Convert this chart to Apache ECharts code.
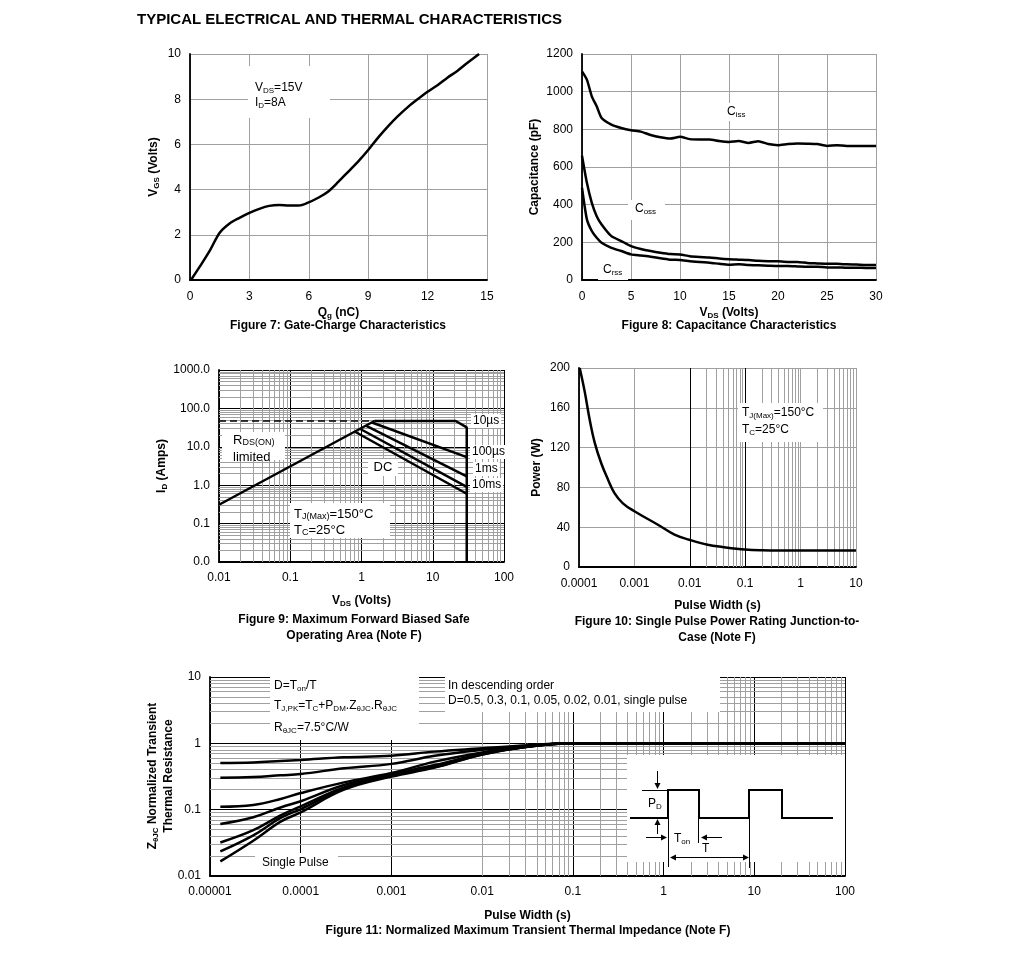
<!DOCTYPE html>
<html><head><meta charset="utf-8">
<script src="https://cdn.jsdelivr.net/npm/echarts@6/dist/echarts.min.js"></script>
<style>html,body{margin:0;padding:0;background:#fff}#c{width:1020px;height:965px}</style>
</head><body><div id="c"></div>
<script>
const FF = '"Liberation Sans", Arial, Helvetica, sans-serif';

// ---------- Figure 7: gate charge ----------
const qg7  = [0.05,0.5,1,1.5,2,2.5,3,3.5,4,4.5,5,5.5,5.9,6.5,7,7.5,8,8.5,9,9.5,10,10.5,11,11.5,12,12.5,13,13.5,14,14.6];
const vgs7 = [0,0.6,1.3,2.09,2.5,2.75,2.97,3.15,3.28,3.32,3.3,3.3,3.4,3.65,3.93,4.35,4.8,5.25,5.75,6.3,6.8,7.25,7.65,8.0,8.33,8.62,8.95,9.25,9.6,10];

// ---------- Figure 8: capacitance ----------
const vds8 = [0,0.5,1,1.5,2,3,4,5,6,7,8,9,10,11,12,13,14,15,16,17,18,19,20,21,22,23,24,25,26,27,28,29,30];
const ciss = [1108,1064,975,922,860,825,807,795,788,770,758,751,760,748,746,746,738,733,738,728,737,722,716,722,725,724,722,712,716,712,712,712,712];
const coss = [660,516,410,339,295,233,207,180,165,154,145,138,136,126,122,120,114,110,108,106,102,100,99,96,96,90,88,86,86,83,82,80,80];
const crss = [490,322,260,224,198,171,154,136,130,124,115,108,106,100,95,92,86,81,84,80,78,76,74,74,72,70,70,67,67,65,65,64,64];

// ---------- Figure 9: SOA ----------
const rdsV = [0.01, 1.52],  rdsI = [0.31, 47];
const limV = [0.01, 1.52],  limI = [47, 47];
const us10V = [1.52, 21, 30, 30], us10I = [47, 47, 32, 0.01];
const us100V = [1.4, 30], us100I = [43, 5.4];
const ms1V = [1.15, 30],  ms1I = [35.5, 1.7];
const ms10V = [0.95, 30], ms10I = [29.5, 0.9];
const dcV = [0.8, 30],    dcI = [25, 0.6];

// ---------- Figure 10: single pulse power ----------
const t10 = [1.03e-4,1.27e-4,1.56e-4,1.92e-4,2.53e-4,3.33e-4,4.4e-4,6.2e-4,1e-3,2.66e-3,5.3e-3,9.8e-3,2.1e-2,3.9e-2,1e-1,2e-1,1,10];
const p10 = [200,176,148,125,104,88,74,64,56,42.5,32.5,27.4,22.4,20.1,17.5,16.8,16.5,16.5];

// ---------- Figure 11: transient thermal impedance ----------
const t11  = [1.3e-5,3e-5,6e-5,1e-4,3e-4,1e-3,3e-3,1e-2,3e-2,1e-1,1,10,100];
const z05  = [0.505,0.515,0.54,0.56,0.615,0.65,0.75,0.84,0.93,1,1,1,1];
const z03  = [0.303,0.31,0.33,0.345,0.42,0.49,0.65,0.80,0.92,1,1,1,1];
const z01  = [0.111,0.118,0.145,0.178,0.258,0.357,0.53,0.73,0.90,1,1,1,1];
const z005 = [0.061,0.077,0.108,0.134,0.235,0.345,0.47,0.70,0.89,1,1,1,1];
const z002 = [0.032,0.049,0.082,0.112,0.217,0.333,0.45,0.69,0.88,1,1,1,1];
const z001 = [0.0235,0.041,0.075,0.102,0.21,0.326,0.44,0.68,0.88,1,1,1,1];
const zsp  = [0.0166,0.034,0.066,0.091,0.20,0.315,0.43,0.68,0.88,1,1,1,1];

// ---------- tick labels ----------
const f9xTicks = [0.01,0.1,1,10,100],        f9xLabels = ['0.01','0.1','1','10','100'];
const f9yTicks = [0.01,0.1,1,10,100,1000],   f9yLabels = ['0.0','0.1','1.0','10.0','100.0','1000.0'];
const f10xTicks = [0.0001,0.001,0.01,0.1,1,10], f10xLabels = ['0.0001','0.001','0.01','0.1','1','10'];
const f11xTicks = [1e-5,1e-4,1e-3,1e-2,1e-1,1,10,100], f11xLabels = ['0.00001','0.0001','0.001','0.01','0.1','1','10','100'];
const f11yTicks = [0.01,0.1,1,10], f11yLabels = ['0.01','0.1','1','10'];

// ---------- helpers ----------
const pairs = (xs, ys) => xs.map((x, i) => [x, ys[i]]);
function logFmt(ticks, labels) {
  return v => {
    let best = '', bd = 1e9;
    ticks.forEach((t, i) => { const d = Math.abs(Math.log10(v) - Math.log10(t)); if (d < bd) { bd = d; best = labels[i]; } });
    return bd < 0.01 ? best : '';
  };
}
function minorVals(k0, k1) {
  const out = [];
  for (let k = k0; k <= k1; k++) for (let m = 2; m <= 9; m++) out.push(+(m * Math.pow(10, k)).toPrecision(6));
  return out;
}
const nameStyle = {
  fontFamily: FF, fontSize: 12, fontWeight: 'bold', color: '#000', lineHeight: 16,
  rich: { s: { fontFamily: FF, fontSize: 8, fontWeight: 'bold', color: '#000', padding: [6, 0, 0, 0] } }
};
function axis(gi, type, min, max, o) {
  const a = {
    gridIndex: gi, type, min, max,
    axisLine: { show: true, onZero: false, lineStyle: { color: '#000', width: 1.8 } },
    axisTick: { show: false },
    axisLabel: { color: '#000', fontSize: 12, fontFamily: FF, margin: 9 },
    splitLine: { show: true, lineStyle: { color: '#a0a0a0', width: 1 } },
    nameLocation: 'middle', nameTextStyle: nameStyle
  };
  if (type === 'log') a.logBase = 10;
  for (const k in o) {
    if (k === 'axisLabel' || k === 'splitLine') a[k] = Object.assign({}, a[k], o[k]);
    else a[k] = o[k];
  }
  return a;
}
function curve(gi, xs, ys, o) {
  return Object.assign({
    type: 'line', xAxisIndex: gi, yAxisIndex: gi, data: pairs(xs, ys),
    showSymbol: false, symbol: 'none', silent: true, z: 3, clip: true,
    lineStyle: { color: '#000', width: 2.5 }
  }, o || {});
}
function gridLines(gi, xs, ys, color, width) {
  return {
    type: 'line', xAxisIndex: gi, yAxisIndex: gi, data: [], silent: true, z: 1,
    markLine: {
      z: 1, zlevel: 0,
      silent: true, symbol: ['none', 'none'], animation: false, label: { show: false },
      emphasis: { disabled: true },
      lineStyle: { type: 'solid', color, width },
      data: xs.map(v => ({ xAxis: v })).concat(ys.map(v => ({ yAxis: v })))
    }
  };
}
function gtext(x, y, text, size, sub, o) {
  o = o || {};
  const st = {
    text, fill: '#000', font: (o.bold ? 'bold ' : '') + size + 'px ' + FF,
    align: o.align || 'left', verticalAlign: 'middle',
    textAlign: o.align || 'left', textVerticalAlign: 'middle',
    rich: { s: { fontSize: sub, fontFamily: FF, fontWeight: o.bold ? 'bold' : 'normal', fill: '#000', padding: [Math.round(sub * 0.7), 0, 0, 0] } }
  };
  if (o.bg) { st.backgroundColor = o.bg; st.padding = o.pad || [1, 2]; }
  const el = { type: 'text', x, y, z: o.z || 6, silent: true, style: st };
  if (o.rot) el.rotation = o.rot;
  return el;
}
function grect(x, y, w, h) {
  return { type: 'rect', z: 2, silent: true, shape: { x, y, width: w, height: h }, style: { fill: '#fff' } };
}
function gline(pts, w) {
  return { type: 'polyline', z: 6, silent: true, shape: { points: pts }, style: { stroke: '#000', lineWidth: w, fill: null } };
}
function gtri(pts) {
  return { type: 'polygon', z: 6, silent: true, shape: { points: pts }, style: { fill: '#000' } };
}

const option = {
  animation: false,
  backgroundColor: '#fff',
  textStyle: { fontFamily: FF },
  title: { text: 'TYPICAL ELECTRICAL AND THERMAL CHARACTERISTICS', left: 137, top: 12, padding: 0,
    textStyle: { fontFamily: FF, fontSize: 15, fontWeight: 'bold', color: '#000' } },
  grid: [
    { left: 190, top: 54, width: 297, height: 226, outerBoundsMode: 'none' },
    { left: 582, top: 54, width: 294, height: 226, outerBoundsMode: 'none' },
    { left: 219, top: 370, width: 285, height: 192, outerBoundsMode: 'none' },
    { left: 579, top: 368, width: 277, height: 199, outerBoundsMode: 'none' },
    { left: 210, top: 677, width: 635, height: 199, outerBoundsMode: 'none' }
  ],
  xAxis: [
    axis(0, 'value', 0, 15, { interval: 3, name: 'Q{s|g} (nC)', nameGap: 25, axisLabel: { margin: 11 } }),
    axis(1, 'value', 0, 30, { interval: 5, name: 'V{s|DS} (Volts)', nameGap: 25, axisLabel: { margin: 11 } }),
    axis(2, 'log', 0.01, 100, { name: 'V{s|DS} (Volts)', nameGap: 31, axisLabel: { margin: 10, formatter: logFmt(f9xTicks, f9xLabels) },
      splitLine: { lineStyle: { color: '#000', width: 1 } } }),
    axis(3, 'log', 0.0001, 10, { name: 'Pulse Width (s)', nameGap: 31, axisLabel: { margin: 11, formatter: logFmt(f10xTicks, f10xLabels) } }),
    axis(4, 'log', 0.00001, 100, { name: 'Pulse Width (s)', nameGap: 32, axisLabel: { margin: 10, formatter: logFmt(f11xTicks, f11xLabels) },
      splitLine: { lineStyle: { color: '#000', width: 1 } } })
  ],
  yAxis: [
    axis(0, 'value', 0, 10, { interval: 2, name: 'V{s|GS} (Volts)', nameGap: 28 }),
    axis(1, 'value', 0, 1200, { interval: 200, name: 'Capacitance (pF)', nameGap: 39, axisLabel: { formatter: v => String(v) } }),
    axis(2, 'log', 0.01, 1000, { name: 'I{s|D} (Amps)', nameGap: 46, axisLabel: { formatter: logFmt(f9yTicks, f9yLabels) },
      splitLine: { lineStyle: { color: '#000', width: 1 } } }),
    axis(3, 'value', 0, 200, { interval: 40, name: 'Power (W)', nameGap: 34 }),
    axis(4, 'log', 0.01, 10, { axisLabel: { formatter: logFmt(f11yTicks, f11yLabels) },
      splitLine: { lineStyle: { color: '#000', width: 1 } } })
  ],
  series: [
    // Figure 7
    curve(0, qg7, vgs7, { smooth: 0.3 }),
    // Figure 8
    curve(1, vds8, ciss, { smooth: 0.2 }),
    curve(1, vds8, coss, { smooth: 0.2 }),
    curve(1, vds8, crss, { smooth: 0.2 }),
    // Figure 9
    gridLines(2, minorVals(-2, 1), minorVals(-2, 2), '#a0a0a0', 1),
    curve(2, limV, limI, { lineStyle: { color: '#000', width: 1.5, type: [7, 4] } }),
    curve(2, rdsV, rdsI),
    curve(2, us10V, us10I),
    curve(2, us100V, us100I),
    curve(2, ms1V, ms1I),
    curve(2, ms10V, ms10I),
    curve(2, dcV, dcI),
    // Figure 10
    gridLines(3, minorVals(-4, 0), [], '#a0a0a0', 1),
    gridLines(3, [0.01, 0.1], [], '#000', 1),
    curve(3, t10, p10, { smooth: 0.4 }),
    // Figure 11
    gridLines(4, minorVals(-5, 1), minorVals(-2, 0), '#a0a0a0', 1),
    curve(4, t11, z05,  { smooth: 0.4 }),
    curve(4, t11, z03,  { smooth: 0.4 }),
    curve(4, t11, z01,  { smooth: 0.4 }),
    curve(4, t11, z005, { smooth: 0.4 }),
    curve(4, t11, z002, { smooth: 0.4 }),
    curve(4, t11, z001, { smooth: 0.4 }),
    curve(4, t11, zsp,  { smooth: 0.4 })
  ],
  graphic: { elements: [
    // Figure 7 annotation
    grect(248, 66, 82, 52),
    gtext(255, 88, 'V{s|DS}=15V', 12, 8),
    gtext(255, 103, 'I{s|D}=8A', 12, 8),
    // Figure 8 labels
    grect(722, 103, 28, 18), gtext(727, 112, 'C{s|iss}', 12, 8),
    grect(628, 200, 37, 20), gtext(635, 209, 'C{s|oss}', 12, 8),
    grect(598, 260, 30, 20), gtext(603, 270, 'C{s|rss}', 12, 8),
    // Figure 9 labels
    grect(222, 432, 63, 28),
    gtext(233, 440, 'R{s|DS(ON)}', 13, 9),
    gtext(233, 457, 'limited', 13, 9),
    grect(368, 459, 30, 17), gtext(383, 467, 'DC', 13, 9, { align: 'center' }),
    grect(290, 503, 100, 35),
    gtext(294, 514, 'T{s|J(Max)}=150°C', 13, 9),
    gtext(294, 530, 'T{s|C}=25°C', 13, 9),
    gtext(471, 421, '10µs', 12, 8, { bg: '#fff', z: 2 }),
    gtext(470, 452, '100µs', 12, 8, { bg: '#fff', z: 2 }),
    gtext(473, 469, '1ms', 12, 8, { bg: '#fff', z: 2 }),
    gtext(470, 485, '10ms', 12, 8, { bg: '#fff', z: 2 }),
    // Figure 10 label
    grect(738, 403, 85, 39),
    gtext(742, 413, 'T{s|J(Max)}=150°C', 12, 8),
    gtext(742, 430, 'T{s|C}=25°C', 12, 8),
    // Figure 11 y-axis title (two lines)
    gtext(153, 776, 'Z{s|θJC} Normalized Transient', 12, 8, { bold: true, align: 'center', rot: Math.PI / 2 }),
    gtext(169, 776, 'Thermal Resistance', 12, 8, { bold: true, align: 'center', rot: Math.PI / 2 }),
    // Figure 11 labels
    grect(270, 677, 149, 63),
    gtext(274, 686, 'D=T{s|on}/T', 12, 8),
    gtext(274, 706, 'T{s|J,PK}=T{s|C}+P{s|DM}.Z{s|θJC}.R{s|θJC}', 12, 8),
    gtext(274, 728, 'R{s|θJC}=7.5°C/W', 12, 8),
    grect(445, 677, 275, 35),
    gtext(448, 686, 'In descending order', 12, 8),
    gtext(448, 701, 'D=0.5, 0.3, 0.1, 0.05, 0.02, 0.01, single pulse', 12, 8),
    grect(255, 853, 83, 22),
    gtext(262, 863, 'Single Pulse', 12, 8),
    // Figure 11 pulse inset
    grect(627, 755, 218, 107),
    gline([[630, 818], [668, 818], [668, 790], [699, 790], [699, 818], [749, 818], [749, 790], [782, 790], [782, 818], [833, 818]], 2),
    gline([[642, 790.5], [668, 790.5]], 1),
    gline([[668.5, 818], [668.5, 867]], 1),
    gline([[698.5, 818], [698.5, 843]], 1),
    gline([[749.5, 818], [749.5, 868]], 1),
    gline([[657.5, 771], [657.5, 785]], 1), gtri([[654.5, 783], [660.5, 783], [657.5, 789]]),
    gline([[657.5, 834], [657.5, 824]], 1), gtri([[654.5, 825], [660.5, 825], [657.5, 819]]),
    gline([[646, 837.5], [663, 837.5]], 1), gtri([[661, 834.5], [661, 840.5], [667, 837.5]]),
    gline([[705, 837.5], [722, 837.5]], 1), gtri([[707, 834.5], [707, 840.5], [701, 837.5]]),
    gline([[674, 857.5], [745, 857.5]], 1),
    gtri([[676, 854.5], [676, 860.5], [670, 857.5]]), gtri([[743, 854.5], [743, 860.5], [749, 857.5]]),
    gtext(648, 804, 'P{s|D}', 12, 8),
    gtext(674, 839, 'T{s|on}', 12, 8),
    gtext(702, 849, 'T', 12, 8),
    // captions
    gtext(338, 326, 'Figure 7: Gate-Charge Characteristics', 12, 8, { bold: true, align: 'center' }),
    gtext(729, 326, 'Figure 8: Capacitance Characteristics', 12, 8, { bold: true, align: 'center' }),
    gtext(354, 620, 'Figure 9: Maximum Forward Biased Safe', 12, 8, { bold: true, align: 'center' }),
    gtext(354, 636, 'Operating Area (Note F)', 12, 8, { bold: true, align: 'center' }),
    gtext(717, 622, 'Figure 10: Single Pulse Power Rating Junction-to-', 12, 8, { bold: true, align: 'center' }),
    gtext(717, 638, 'Case (Note F)', 12, 8, { bold: true, align: 'center' }),
    gtext(528, 931, 'Figure 11: Normalized Maximum Transient Thermal Impedance (Note F)', 12, 8, { bold: true, align: 'center' })
  ] }
};

const chart = echarts.init(document.getElementById('c'), null, { renderer: 'canvas' });
chart.setOption(option);
</script>
</body></html>
